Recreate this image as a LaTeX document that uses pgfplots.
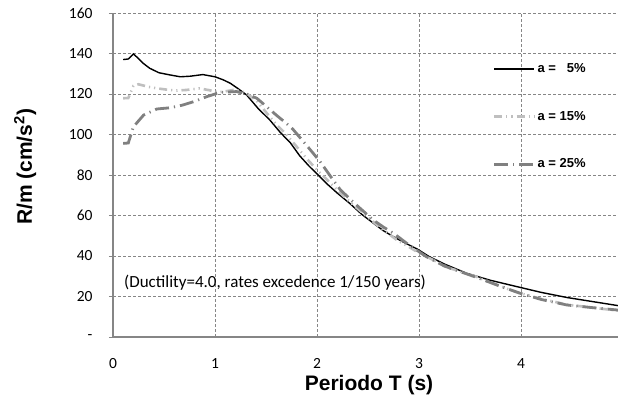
\documentclass[border=0pt]{standalone}
\usepackage{pgfplots}
\pgfplotsset{compat=1.18}
\usepackage{fontspec}
\setmainfont{Carlito}
\newfontfamily\arial{Liberation Sans}
\definecolor{lgray}{HTML}{BFBFBF}
\definecolor{dgray}{HTML}{808080}
\definecolor{axgray}{HTML}{868686}
\pgfplotstableread{
T v
0.10 137
0.15 137.3
0.20 139.8
0.25 137.5
0.30 135
0.36 132.7
0.45 130.5
0.56 129.4
0.66 128.5
0.76 128.8
0.88 129.6
1.00 128.5
1.08 127
1.15 125.3
1.23 122.5
1.31 119.5
1.42 113
1.54 107
1.64 101
1.74 95.8
1.83 89.5
1.92 84.5
2.00 80.5
2.10 75.5
2.20 71
2.32 66
2.44 60.5
2.55 56.3
2.65 52.5
2.75 49.5
2.86 46.5
2.98 43.5
3.10 39.7
3.25 36
3.47 31.4
3.70 28
3.99 24.5
4.20 22
4.45 19.5
4.70 17.5
4.95 15.5
}\five
\pgfplotstableread{
T v
0.10 117.9
0.15 118
0.20 124
0.25 124.8
0.35 123.5
0.43 122.8
0.52 122.2
0.62 121.7
0.72 122
0.85 122.8
0.95 121.8
1.03 120.8
1.10 121.3
1.18 122
1.25 121.5
1.31 120.3
1.41 116.5
1.50 111
1.60 105
1.70 100
1.80 94
1.90 88
2.00 82.5
2.10 77.5
2.23 71
2.36 65
2.49 59.4
2.62 54
2.78 48
2.90 44.5
2.98 42.1
3.10 39
3.30 34
3.56 29.8
3.80 25
3.99 21.6
4.20 18.8
4.45 16
4.70 14.5
4.95 13
}\fifteen
\pgfplotstableread{
T v
0.10 95.6
0.15 95.8
0.20 103.8
0.30 109.6
0.43 112.6
0.56 113.2
0.68 114.5
0.79 116.2
0.92 118.7
1.05 120.8
1.21 121.2
1.31 120
1.41 117.9
1.50 114
1.60 109.6
1.74 103.8
1.77 102.2
1.90 94.5
2.03 86.6
2.13 79.5
2.23 72.6
2.39 65
2.55 57.8
2.65 54.3
2.75 51.2
2.90 45.5
3.07 39.7
3.25 35
3.56 29.5
3.80 25
3.99 21.6
4.20 18.5
4.45 15.8
4.70 14.5
4.95 13.3
}\twentyfive
\begin{document}
\begin{tikzpicture}[x=1pt,y=1pt]
\begin{axis}[
  at={(113pt,71pt)}, anchor=origin,
  scale only axis, width=505pt, height=324pt,
  xmin=0, xmax=4.95, ymin=0, ymax=160,
  axis x line=bottom, axis y line=left,
  axis line style={-, axgray, line width=1.3pt},
  xtick={0,1,2,3,4}, ytick={0,20,...,160},
  yticklabels={-,20,40,60,80,100,120,140,160},
  xtick style={draw=none},
  ytick style={axgray, line width=0.8pt},
  tick align=outside, major tick length=4pt,
  grid=major,
  major grid style={axgray, line width=0.7pt, dash pattern=on 3pt off 2pt},
  tick label style={font=\fontsize{15.5}{17}\selectfont, black},
  /pgf/number format/assume math mode=true,
  yticklabel style={xshift=-13pt},
  xticklabel style={yshift=-14pt},
  xlabel={\arial\bfseries Periodo T (s)},
  ylabel={\arial\bfseries R/m (cm/s\textsuperscript{2})},
  label style={font=\fontsize{21}{23}\selectfont},
  xlabel style={at={(rel axis cs:0.507,-0.148)}, anchor=center},
  ylabel style={at={(rel axis cs:-0.174,0.525)}, anchor=center},
  legend style={at={(axis cs:3.72,136)}, anchor=north west, draw=none, fill=none,
    font=\arial\bfseries\fontsize{13}{14}\selectfont, row sep=33pt, inner sep=0pt},
  legend cell align=left,
  legend image code/.code={\draw[#1] (0pt,0pt) -- (40pt,0pt);},
]
\addplot[black, line width=1.4pt, no marks] table[x=T,y=v] {\five};
\addlegendentry{a = \ \ 5\%}
\addplot[lgray, line width=2.6pt, no marks, dash pattern=on 8pt off 4pt on 1.2pt off 4pt on 1.2pt off 4pt] table[x=T,y=v] {\fifteen};
\addlegendentry{a = 15\%}
\addplot[dgray, line width=2.8pt, no marks, dash pattern=on 14pt off 5pt on 1.2pt off 5pt] table[x=T,y=v] {\twentyfive};
\addlegendentry{a = 25\%}
\node[anchor=west, font=\fontsize{17}{19}\selectfont, inner sep=0pt] at (axis cs:0.108,26.7) {(Ductility=4.0, rates excedence 1/150 years)};
\end{axis}
\pgfresetboundingbox
\useasboundingbox (0pt,0pt) rectangle (618pt,408pt);
\end{tikzpicture}
\end{document}
